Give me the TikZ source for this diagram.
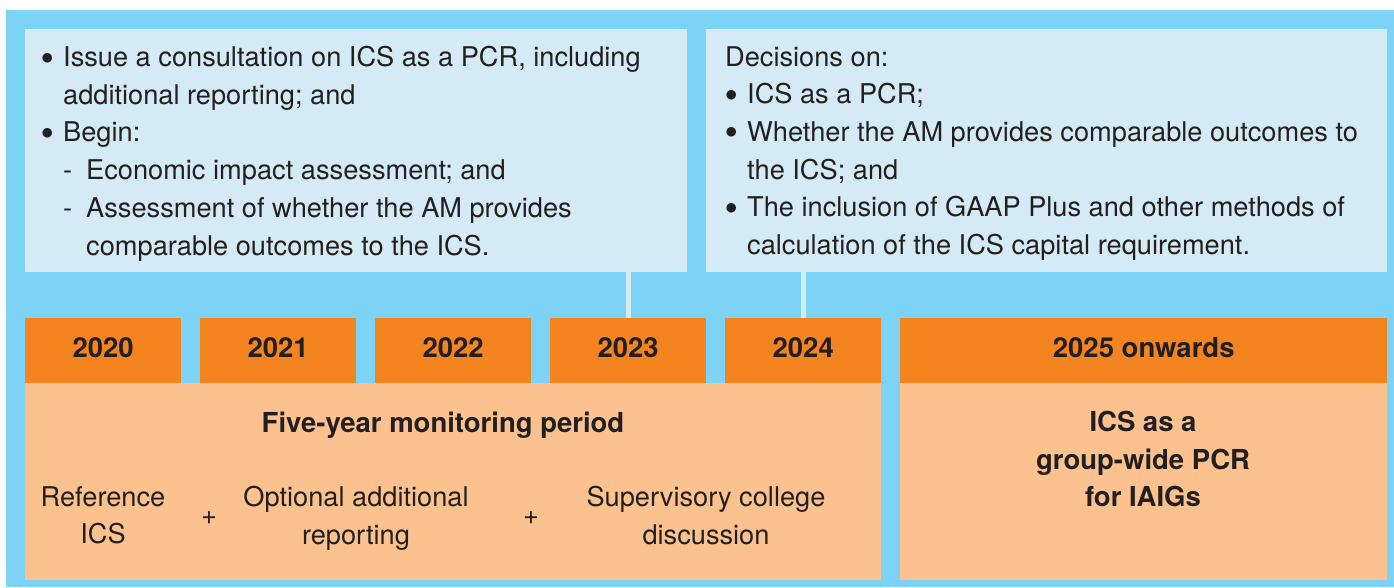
\documentclass[tikz,border=0pt]{standalone}
\usepackage{fontspec}
\setmainfont{TeX Gyre Heros}
\usetikzlibrary{positioning}
\definecolor{skyblue}{HTML}{7DD3F5}
\definecolor{paleblue}{HTML}{D4EAF5}
\definecolor{yearorange}{HTML}{F48420}
\definecolor{peach}{HTML}{FBC28F}
\definecolor{inkgrey}{HTML}{231F20}
\newcommand{\bul}{\makebox[22pt][l]{\raisebox{2.5pt}{$\bullet$}}}
\newcommand{\gap}{\hspace*{22pt}}
\newcommand{\dsh}{\makebox[23pt][l]{-}}
\begin{document}
\begin{tikzpicture}[x=1pt,y=-1pt,
  every node/.style={text=inkgrey,inner sep=0pt,font=\fontsize{27.2}{37.7}\selectfont},
  boldtext/.style={font=\fontsize{27.5}{37.5}\selectfont\bfseries},
  notebox/.style={fill=paleblue,anchor=north west,minimum height=243pt},
  yearbox/.style={fill=yearorange,anchor=north west,minimum width=156pt,minimum height=65pt,
    text height=19pt,text depth=6pt,boldtext},
  periodbox/.style={fill=peach,anchor=north west,minimum height=197pt},
  listtext/.style={anchor=north west,align=left},
  midtext/.style={anchor=north,align=center},
  link/.style={draw=paleblue,line width=5pt}]
  \useasboundingbox (0,0) rectangle (1394,587);
  \fill[skyblue] (6,10) rectangle (1394,587);
  % notes above the timeline
  \node[notebox,minimum width=662pt] (plan) at (25,29) {};
  \node[notebox,minimum width=681pt] (decide) at (706,29) {};
  \node[listtext] (plantext) at (41,46) {\bul Issue a consultation on ICS as a PCR, including\\
    \gap additional reporting; and\\
    \bul Begin:\\
    \gap\dsh Economic impact assessment; and\\
    \gap\dsh Assessment of whether the AM provides\\
    \gap\hspace*{23pt}comparable outcomes to the ICS.};
  \node[listtext] (decidetext) at (725,46) {Decisions on:\\
    \bul ICS as a PCR;\\
    \bul Whether the AM provides comparable outcomes to\\
    \gap the ICS; and\\
    \bul The inclusion of GAAP Plus and other methods of\\
    \gap calculation of the ICS capital requirement.};
  % years
  \foreach \yr [count=\i from 0] in {2020,2021,2022,2023,2024}
    \node[yearbox] (y\yr) at (25+175*\i,318) {\yr};
  \node[yearbox,minimum width=487pt] (y2025) at (900,318) {2025 onwards};
  % periods
  \node[periodbox,minimum width=856pt] (monitor) at (25,383) {};
  \node[periodbox,minimum width=487pt] (pcr) at (900,383) {};
  \node[midtext,boldtext] (montitle) at (443,412) {Five-year monitoring period};
  \node[midtext] (refics) at (103,486) {Reference\\ ICS};
  \node (plus1) at (209,518) {+};
  \node[midtext] (optrep) at (356,486) {Optional additional\\ reporting};
  \node (plus2) at (531,518) {+};
  \node[midtext] (college) at (706,486) {Supervisory college\\ discussion};
  \node[midtext,boldtext] (pcrtext) at (1143,411) {ICS as a\\ group-wide PCR\\ for IAIGs};
  % connectors
  \draw[link] (plan.south -| y2023.north) -- (y2023.north);
  \draw[link] (decide.south -| y2024.north) -- (y2024.north);
\end{tikzpicture}
\end{document}
